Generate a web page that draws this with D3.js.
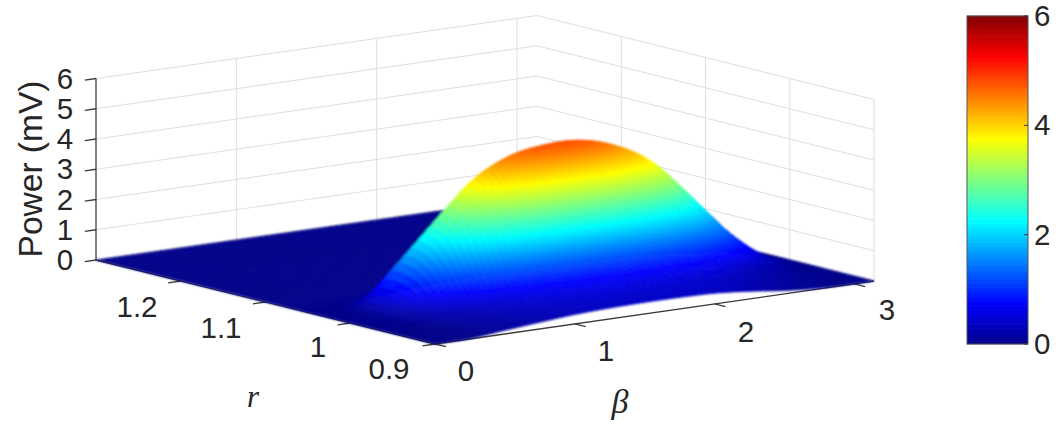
<!DOCTYPE html>
<html><head><meta charset="utf-8">
<script src="https://cdn.jsdelivr.net/npm/d3@7"></script>
<style>html,body{margin:0;padding:0;background:#fff}svg{display:block}text{font-family:"Liberation Sans",Arial,sans-serif;fill:#262626}</style>
</head><body><svg id="c" width="1062" height="426"></svg>
<script>
const betaValues=[0,.25,.5,.75,1,1.25,1.5,1.75,2,2.25,2.5,2.75,3,Math.PI];
const rValues=[.9,.92,.94,.96,.97,.98,.99,1,1.01,1.02,1.03,1.04,1.05,1.06,1.08,1.12,1.2,1.3];
const powerRows=[
[0,.01,.12,.22,.31,.36,.38,.38,.35,.25,.11,.02,0,0],
[0,.02,.14,.25,.35,.41,.43,.42,.40,.32,.19,.08,.01,0],
[0,.02,.17,.30,.43,.50,.53,.52,.49,.41,.27,.12,.02,0],
[0,.03,.28,.50,.70,.81,.85,.86,.80,.68,.45,.21,.03,0],
[0,.05,.45,.83,1.17,1.36,1.42,1.43,1.33,1.13,.75,.35,.05,0],
[0,.08,.75,1.38,1.95,2.26,2.36,2.38,2.21,1.88,1.25,.58,.08,0],
[0,.11,1.08,1.98,2.81,3.25,3.40,3.43,3.18,2.70,1.80,.83,.11,0],
[0,.14,1.31,2.42,3.43,3.97,4.15,4.19,3.89,3.30,2.20,1.01,.13,0],
[0,.15,1.45,2.67,3.78,4.38,4.58,4.62,4.29,3.64,2.43,1.12,.15,0],
[0,.15,1.5,2.75,3.9,4.52,4.74,4.74,4.42,3.75,2.5,1.15,.15,0],
[0,.14,1.31,2.42,3.43,3.97,4.15,4.19,3.89,3.30,2.20,1.01,.13,0],
[0,.08,.83,1.51,2.15,2.48,2.60,2.62,2.43,2.06,1.38,.63,.08,0],
[0,.03,.33,.61,.86,.99,1.04,1.05,.97,.83,.55,.25,.03,0],
[0,.01,.10,.19,.27,.32,.33,.33,.31,.26,.18,.08,.01,0],
[0,.01,.03,.05,.08,.09,.10,.09,.09,.08,.05,.02,0,0],
[0,0,.01,.01,.01,.01,.01,.01,.01,.01,.01,0,0,0],
[0,0,0,0,0,0,0,0,0,0,0,0,0,0],
[0,0,0,0,0,0,0,0,0,0,0,0,0,0]];
const betaTicks=[0,1,2,3], rTicks=[.9,1,1.1,1.2], zTicks=[0,1,2,3,4,5,6], barTicks=[0,2,4,6];

const svg=d3.select("#c");
svg.append("defs").append("filter").attr("id","soft").attr("x","-5%").attr("y","-5%").attr("width","110%").attr("height","110%")
  .append("feGaussianBlur").attr("stdDeviation",.9);
const corners={F:[435,344],R:[874,281],B:[537,197],L:[96,260]};
const uS=d3.scaleLinear().domain([0,Math.PI]).range([0,1]);
const vS=d3.scaleLinear().domain([.9,1.3]).range([0,1]);
const zS=d3.scaleLinear().domain([0,6]).range([0,181.5]);
function P(b,r,z){const u=uS(b),v=vS(r),{F,R,B,L}=corners;
 const w=i=>(1-u)*(1-v)*F[i]+u*(1-v)*R[i]+u*v*B[i]+(1-u)*v*L[i];
 return [w(0),w(1)-zS(z)];}
const jet=d3.scaleLinear().domain([0,.75,2.25,3.75,5.25,6]).range(["#00008a","#0000ff","#00ffff","#ffff00","#ff0000","#800000"]).clamp(true);

// cubic Hermite through (xs, ys); smooth=true uses central slopes, else monotone slopes
function cubic(xs,ys,x,smooth){const n=xs.length;let i=Math.min(n-2,Math.max(0,d3.bisectRight(xs,x)-1));
 const d=k=>(ys[k+1]-ys[k])/(xs[k+1]-xs[k]);
 const m=k=>{if(k===0)return d(0);if(k===n-1)return d(n-2);
   if(smooth)return (ys[k+1]-ys[k-1])/(xs[k+1]-xs[k-1]);
   const a=d(k-1),b=d(k);if(a*b<=0)return 0;
   const h0=xs[k]-xs[k-1],h1=xs[k+1]-xs[k];return (h0+h1)*3/((2*h1+h0)/a+(h1+2*h0)/b);};
 const h=xs[i+1]-xs[i],t=(x-xs[i])/h,t2=t*t,t3=t2*t;
 return (2*t3-3*t2+1)*ys[i]+(t3-2*t2+t)*h*m(i)+(-2*t3+3*t2)*ys[i+1]+(t3-t2)*h*m(i+1);}

const line=d3.line();
const gGrid=svg.append("g").attr("fill","none").attr("stroke","#dedede").attr("stroke-width",1);
zTicks.forEach(z=>{
 gGrid.append("path").attr("d",line([P(0,1.3,z),P(Math.PI,1.3,z)]));
 gGrid.append("path").attr("d",line([P(Math.PI,1.3,z),P(Math.PI,.9,z)]));
});
betaTicks.filter(b=>b>0).forEach(b=>gGrid.append("path").attr("d",line([P(b,1.3,0),P(b,1.3,6)])));
[.9,1,1.1,1.2].forEach(r=>gGrid.append("path").attr("d",line([P(Math.PI,r,0),P(Math.PI,r,6)])));

const gAxis=svg.append("g").attr("fill","none").attr("stroke","#3c3c3c").attr("stroke-width",1.3);
gAxis.append("path").attr("d",line([P(0,.9,0),P(0,1.3,0)]));
gAxis.append("path").attr("d",line([P(0,.9,0),P(Math.PI,.9,0)]));
gAxis.append("path").attr("d",line([P(0,1.3,0),P(0,1.3,6)]));
rTicks.forEach(r=>{gAxis.append("path").attr("d",line([P(0,r,0),P(-.09,r,0)]));});
betaTicks.forEach(b=>{gAxis.append("path").attr("d",line([P(b,.9,0),P(b,.887,0)]));});
zTicks.forEach(z=>{gAxis.append("path").attr("d",line([P(0,1.3,z),P(-.08,1.3,z)]));});

const fineR=[];rValues.slice(0,-1).forEach((r,i)=>{const n=d3.max(powerRows[i])+d3.max(powerRows[i+1])>.03?12:1;
  for(let k=0;k<n;k++)fineR.push(r+(rValues[i+1]-r)*k/n);});fineR.push(1.3);
const fineB=[];betaValues.slice(0,-1).forEach((b,i)=>{const n=6;for(let k=0;k<n;k++)fineB.push(b+(betaValues[i+1]-b)*k/n);});fineB.push(Math.PI);
const cols=betaValues.map((b,j)=>powerRows.map(row=>row[j]));
const Z=fineR.map(r=>{const coarse=cols.map(c=>Math.max(0,cubic(rValues,c,r,false)));
   return fineB.map(b=>Math.max(0,cubic(betaValues,coarse,b,true)));});
const gS=svg.append("g").attr("filter","url(#soft)");
for(let i=fineR.length-2;i>=0;i--)for(let j=fineB.length-2;j>=0;j--){
 const a=Z[i][j],b=Z[i][j+1],c=Z[i+1][j+1],d=Z[i+1][j],col=jet((a+b+c+d)/4);
 gS.append("path").attr("d",line([P(fineB[j],fineR[i],a),P(fineB[j+1],fineR[i],b),P(fineB[j+1],fineR[i+1],c),P(fineB[j],fineR[i+1],d)])+"Z")
  .attr("fill",col).attr("stroke",col).attr("stroke-width",.6);
}

const FS=29.5;
function T(x,y,s,o={}){return svg.append("text").attr("x",x).attr("y",y).attr("text-anchor",o.a||"middle").attr("font-size",o.fs||FS).text(s);}
zTicks.forEach(z=>{const p=P(0,1.3,z);T(65,p[1]+10,z);});
const rLab=[[.9,389,379],[1,318,357],[1.1,221,338],[1.2,137,317]];
rLab.forEach(d=>T(d[1],d[2],d[0]));
const bLab=[[0,466,381],[1,606,361],[2,746,342],[3,887,320]];
bLab.forEach(d=>T(d[1],d[2],d[0]));
svg.append("text").attr("transform","translate(42,169) rotate(-90)").attr("text-anchor","middle").attr("font-size",33.5).text("Power (mV)");
svg.append("text").attr("x",253).attr("y",407).attr("text-anchor","middle").attr("font-size",31).attr("font-style","italic").style("font-family","'Liberation Serif',serif").text("r");
svg.append("text").attr("x",620).attr("y",413).attr("text-anchor","middle").attr("font-size",34).attr("font-style","italic").style("font-family","'Liberation Serif',serif").text("β");

const yBar=d3.scaleLinear().domain([0,6]).range([344,16]);
const gB=svg.append("g");
d3.range(0,6,6/128).forEach(v=>gB.append("rect").attr("x",967).attr("width",61).attr("y",yBar(v+6/128)-.3).attr("height",yBar(v)-yBar(v+6/128)+.6).attr("fill",jet(v+3/128)));
gB.append("rect").attr("x",967).attr("y",16).attr("width",61).attr("height",328).attr("fill","none").attr("stroke","#555").attr("stroke-width",1);
barTicks.forEach(v=>{gB.append("path").attr("d",line([[1024,yBar(v)],[1028,yBar(v)]])).attr("stroke","#333").attr("fill","none");
 T(1034,yBar(v)+10,v,{a:"start"});});
</script></body></html>
